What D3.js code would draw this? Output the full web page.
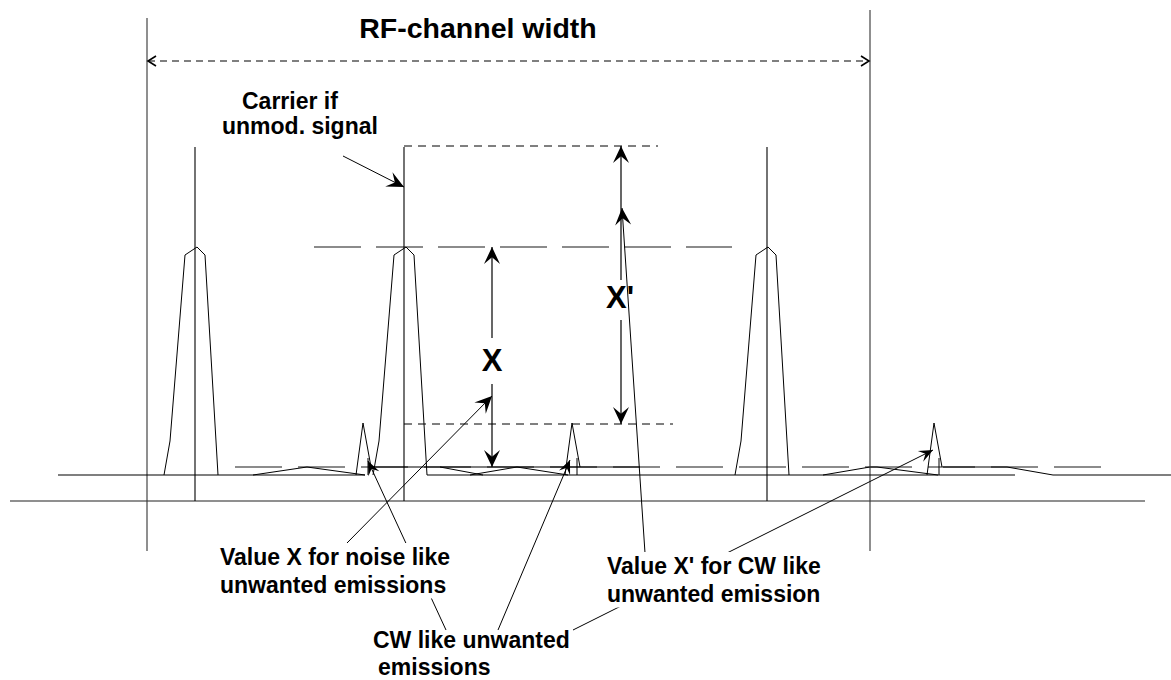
<!DOCTYPE html>
<html><head><meta charset="utf-8">
<script src="https://cdn.jsdelivr.net/npm/d3@7"></script>
<style>
body{margin:0;background:#fff}
svg{display:block}
text{font-family:"Liberation Sans",Arial,Helvetica,sans-serif;font-weight:bold;fill:#000}
</style>
</head><body>
<svg id="c" width="1171" height="680"></svg>
<script>
// ---- data (frequency in diagram units, level = height above the noise floor) ----
const channelEdges = [147, 870];
const carrierFreqs = [197, 406, 768];
const carrierMarkers = [195, 404, 767];
const peakProfile = [[-33,0],[-27,34],[-12,220],[0,228],[8,220],[21,0]];
const cwFreqs = [363, 572, 934];
const cwProfile = [[-7,0],[0,52],[8,8]];
const noiseTraces = [
  [[253,0],[307,8],[365,0]],
  [[440,8],[483,0]],
  [[470,0],[517,8],[568,0]],
  [[823,0],[870,8],[877,8],[938,0]],
  [[943,8],[1007,8],[1053,0]]
];
const floorSegments = [[58,365],[427,1015],[1053,1171]];
const noiseLevelSegments = [[370,640]];
const levels = {floor:0, noise:8, cw:51, mod:228, carrier:329, axis:-26, rf:414};
const labels = [
  {lines:["RF-channel width"], f:478, l:437, anchor:"middle", size:28.5},
  {lines:["Carrier if"], f:242, l:366, anchor:"start", size:23},
  {lines:["unmod. signal"], f:222, l:341, anchor:"start", size:23},
  {lines:["X"], f:492, l:104, anchor:"middle", size:31},
  {lines:["X'"], f:620, l:167, anchor:"middle", size:31},
  {lines:["Value X for noise like","unwanted emissions"], f:220, l:-90, anchor:"start", size:23, box:true},
  {lines:["CW like unwanted"], f:373, l:-173, anchor:"start", size:23},
  {lines:["emissions"], f:378, l:-200, anchor:"start", size:23},
  {lines:["Value X' for CW like","unwanted emission"], f:607, l:-99, anchor:"start", size:23, box:true}
];
const leaders = [
  {from:[343,319], to:[404,288]},
  {from:[347,-68], to:[492,79]},
  {from:[446,-155], to:[368,14], small:true},
  {from:[498,-155], to:[570,15], small:true},
  {from:[573,-155], to:[933,25], small:true},
  {from:[645,-78], to:[622,267]}
];

// ---- scales ----
const x = d3.scaleLinear().domain([0,1171]).range([0,1171]);
const y = d3.scaleLinear().domain([0,475]).range([475,0]);

const svg = d3.select("#c");
const defs = svg.append("defs");
function mk(id, len, hw){
  defs.append("marker").attr("id",id).attr("markerUnits","userSpaceOnUse")
    .attr("viewBox",`${-len-1} ${-hw-1} ${len+2} ${2*hw+2}`)
    .attr("markerWidth",len+2).attr("markerHeight",2*hw+2)
    .attr("refX",0).attr("refY",0).attr("orient","auto-start-reverse")
    .append("path").attr("d",`M0,0L${-len},${-hw}L${-len*0.6},0L${-len},${hw}Z`).attr("fill","#000");
}
mk("big",17,8); mk("small",14,6);
defs.append("marker").attr("id","open").attr("markerUnits","userSpaceOnUse")
  .attr("viewBox","-10 -7 12 14").attr("markerWidth",12).attr("markerHeight",14)
  .attr("refX",0).attr("refY",0).attr("orient","auto-start-reverse")
  .append("path").attr("d","M-8,-5L0,0L-8,5").attr("fill","none").attr("stroke","#000").attr("stroke-width",1.6);

const line = d3.line().x(d=>x(d[0])).y(d=>y(d[1]));
const g = svg.append("g");

// axis line
g.append("line").attr("x1",x(10)).attr("x2",x(1145)).attr("y1",y(levels.axis)).attr("y2",y(levels.axis))
  .attr("stroke","#6a6a6a").attr("stroke-width",1.6);

// channel edges
[[channelEdges[0],457],[channelEdges[1],465]].forEach(([f,top])=>{
  g.append("line").attr("x1",x(f)).attr("x2",x(f)).attr("y1",y(top)).attr("y2",y(-76))
    .attr("stroke","#333").attr("stroke-width",1.1);
});

// RF channel width arrow
g.append("line").attr("x1",x(channelEdges[0])+1).attr("x2",x(channelEdges[1])-1)
  .attr("y1",y(levels.rf)).attr("y2",y(levels.rf))
  .attr("stroke","#000").attr("stroke-width",1.1).attr("stroke-dasharray","7,5")
  .attr("marker-start","url(#open)").attr("marker-end","url(#open)");

// reference level lines
g.append("line").attr("x1",x(314)).attr("x2",x(732)).attr("y1",y(levels.mod)).attr("y2",y(levels.mod))
  .attr("stroke","#666").attr("stroke-width",1.4).attr("stroke-dasharray","47,15");
g.append("line").attr("x1",x(235)).attr("x2",x(1101)).attr("y1",y(levels.noise)).attr("y2",y(levels.noise))
  .attr("stroke","#666").attr("stroke-width",1.4).attr("stroke-dasharray","47,16");
g.append("line").attr("x1",x(404)).attr("x2",x(658)).attr("y1",y(levels.carrier)).attr("y2",y(levels.carrier))
  .attr("stroke","#000").attr("stroke-width",1).attr("stroke-dasharray","8,6");
g.append("line").attr("x1",x(404)).attr("x2",x(673)).attr("y1",y(levels.cw)).attr("y2",y(levels.cw))
  .attr("stroke","#000").attr("stroke-width",1).attr("stroke-dasharray","8,6");

// floor
floorSegments.forEach(s=>g.append("path").attr("d",line([[s[0],levels.floor],[s[1],levels.floor]]))
  .attr("stroke","#000").attr("stroke-width",1.2).attr("fill","none"));
noiseLevelSegments.forEach(s=>g.append("path").attr("d",line([[s[0],levels.noise],[s[1],levels.noise]]))
  .attr("stroke","#000").attr("stroke-width",1.2).attr("fill","none"));
noiseTraces.forEach(t=>g.append("path").attr("d",line(t)).attr("stroke","#000").attr("stroke-width",1).attr("fill","none"));

// carrier markers
carrierMarkers.forEach(f=>g.append("line").attr("x1",x(f)).attr("x2",x(f))
  .attr("y1",y(levels.carrier-1)).attr("y2",y(levels.axis)).attr("stroke","#000").attr("stroke-width",1.1));

// modulated peaks
carrierFreqs.forEach(c=>g.append("path").attr("d",line(peakProfile.map(p=>[c+p[0],p[1]])))
  .attr("stroke","#000").attr("stroke-width",1).attr("fill","none"));

// CW spikes
cwFreqs.forEach(c=>{
  g.append("path").attr("d",line(cwProfile.map(p=>[c+p[0],p[1]])))
    .attr("stroke","#000").attr("stroke-width",1).attr("fill","none");
  g.append("path").attr("d",line([[c+5,17],[c+5,0]])).attr("stroke","#000").attr("stroke-width",1);
});

// leaders
leaders.forEach(d=>g.append("path").attr("d",line([d.from,d.to]))
  .attr("stroke","#000").attr("stroke-width",1).attr("fill","none")
  .attr("marker-end",`url(#${d.small?"small":"big"})`));

// X and X' dimension arrows
function dim(f, top, bottom, gapTop, gapBot){
  g.append("path").attr("d",line([[f,gapTop],[f,top]])).attr("stroke","#000").attr("stroke-width",1.2).attr("marker-end","url(#big)");
  g.append("path").attr("d",line([[f,gapBot],[f,bottom]])).attr("stroke","#000").attr("stroke-width",1.2).attr("marker-end","url(#big)");
}
dim(492, levels.mod, levels.noise, 137, 91);
dim(621, levels.carrier, levels.cw, 195, 155);

// labels
labels.forEach(L=>{
  const t = g.append("text").attr("x",x(L.f)).attr("y",y(L.l)).attr("text-anchor",L.anchor)
    .style("font-size",L.size+"px");
  L.lines.forEach((s,i)=>t.append("tspan").attr("x",x(L.f)).attr("dy",i?27.5:0).text(s));
  if(L.box){
    const b = t.node().getBBox();
    g.insert("rect", function(){return t.node();}).attr("x",b.x-2).attr("y",b.y-1)
      .attr("width",b.width+4).attr("height",b.height+2).attr("fill","#fff");
  }
});
</script>
</body></html>
